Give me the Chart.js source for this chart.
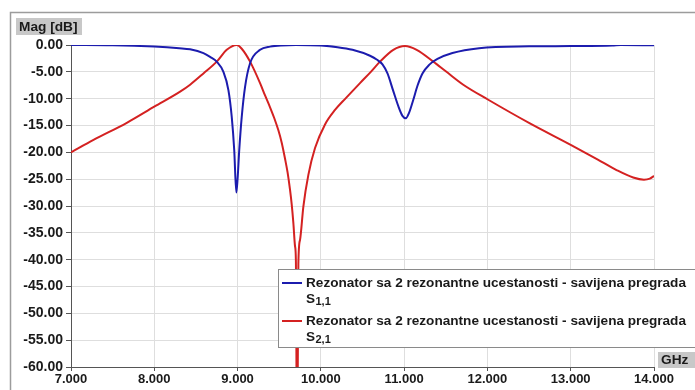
<!DOCTYPE html>
<html>
<head>
<meta charset="utf-8">
<script src="https://cdn.jsdelivr.net/npm/chart.js@4/dist/chart.umd.min.js"></script>
<style>
    html, body { margin: 0; padding: 0; background: #fff; }
    #wrap { position: relative; width: 695px; height: 390px; }
</style>
</head>
<body>
<div id="wrap"><canvas id="chart" width="695" height="390"></canvas></div>
<script>
// S1,1 (blue) - frequency in GHz, magnitude in dB
const freqS11 = [7.0, 7.5, 8.0, 8.3, 8.43, 8.59, 8.67, 8.75, 8.83, 8.89, 8.93, 8.96, 8.985, 9.0, 9.02, 9.05, 9.09, 9.15, 9.27, 9.39, 9.7,
    10.0, 10.2, 10.38, 10.59, 10.67, 10.74, 10.80, 10.87, 10.93, 10.98, 11.02, 11.06, 11.11, 11.16, 11.22, 11.30, 11.40, 11.58, 11.9,
    12.5, 13.0, 13.5, 13.6, 14.0];
const magS11 = [0.0, -0.05, -0.3, -0.6, -0.8, -1.5, -2.2, -3.1, -5.0, -8.4, -13.4, -19.6, -27.5, -25.0, -19.6, -13.4, -7.8, -3.4, -0.9, -0.3, 0.0,
    -0.1, -0.4, -0.9, -2.0, -2.7, -3.6, -5.3, -8.6, -11.4, -13.2, -13.65, -12.6, -10.2, -7.6, -5.3, -3.7, -2.6, -1.5, -0.6,
    -0.25, -0.2, -0.1, 0.0, -0.05];

// S2,1 (red)
const freqS21 = [7.0, 7.27, 7.67, 8.0, 8.31, 8.43, 8.59, 8.75, 8.87, 8.99, 9.05, 9.15, 9.27, 9.33, 9.39, 9.44, 9.49, 9.53, 9.57, 9.60,
    9.63, 9.65, 9.67, 9.69, 9.70, 9.715, 9.73, 9.75, 9.79, 9.85, 9.93, 10.05, 10.17, 10.30, 10.47, 10.60, 10.71, 10.87, 11.01, 11.15,
    11.35, 11.5, 11.71, 12.01, 12.51, 13.0, 13.32, 13.55, 13.75, 13.88, 13.95, 14.0];
const magS21 = [-20.0, -17.7, -14.5, -11.5, -8.7, -7.4, -5.3, -3.1, -0.9, 0.0, -0.7, -3.1, -7.1, -9.4, -11.6, -13.6, -15.9, -18.2, -21.2, -23.7,
    -27.0, -29.7, -33.2, -37.5, -40.0, -80.0, -40.7, -36.3, -30.1, -24.2, -19.2, -14.8, -12.1, -9.9, -7.1, -5.0, -3.1, -0.9, -0.2, -0.9,
    -3.1, -4.9, -7.4, -10.2, -14.6, -18.6, -21.3, -23.3, -24.7, -25.1, -24.9, -24.4];

const seriesName = 'Rezonator sa 2 rezonantne ucestanosti - savijena pregrada';
const seriesSubs = ['1,1', '2,1'];
const seriesColors = ['#1c1cae', '#d42121'];

const FONT = '"Liberation Sans", Arial, sans-serif';

function toPoints(xs, ys) {
    return xs.map((x, i) => ({ x: x, y: ys[i] }));
}

// frame, axis unit boxes and the legend
const decorations = {
    id: 'decorations',
    afterDraw(chart) {
        const ctx = chart.ctx;
        ctx.save();

        // outer panel frame
        ctx.strokeStyle = '#9c9c9c';
        ctx.lineWidth = 1.5;
        ctx.beginPath();
        ctx.moveTo(10.5, 390);
        ctx.lineTo(10.5, 12.5);
        ctx.lineTo(695, 12.5);
        ctx.stroke();

        // unit labels
        ctx.font = 'bold 13.7px ' + FONT;
        ctx.textBaseline = 'middle';
        ctx.fillStyle = '#c8c8c8';
        ctx.fillRect(16, 18, 66, 17);
        ctx.fillRect(658, 352, 37, 16);
        ctx.fillStyle = '#1a1a1a';
        ctx.textAlign = 'left';
        ctx.fillText('Mag [dB]', 19, 27);
        ctx.fillText('GHz', 661, 360.5);

        // legend
        ctx.fillStyle = '#fff';
        ctx.fillRect(278.5, 269.5, 420, 78);
        ctx.strokeStyle = '#8a8a8a';
        ctx.lineWidth = 1;
        ctx.strokeRect(278.5, 269.5, 420, 78);

        const rows = [283, 321];
        rows.forEach((y, i) => {
            ctx.strokeStyle = seriesColors[i];
            ctx.lineWidth = 2;
            ctx.beginPath();
            ctx.moveTo(282, y);
            ctx.lineTo(302, y);
            ctx.stroke();

            ctx.fillStyle = '#1a1a1a';
            ctx.font = 'bold 13.6px ' + FONT;
            ctx.fillText(seriesName, 306, y);
            ctx.fillText('S', 306, y + 16);
            ctx.font = 'bold 11px ' + FONT;
            ctx.fillText(seriesSubs[i], 315.5, y + 19);
        });

        ctx.restore();
    }
};

new Chart(document.getElementById('chart'), {
    type: 'line',
    data: {
        datasets: [
            {
                label: seriesName + ' S1,1',
                data: toPoints(freqS11, magS11),
                borderColor: seriesColors[0],
                borderWidth: 2,
                pointRadius: 0,
                cubicInterpolationMode: 'monotone',
                fill: false
            },
            {
                label: seriesName + ' S2,1',
                data: toPoints(freqS21, magS21),
                borderColor: seriesColors[1],
                borderWidth: 2,
                pointRadius: 0,
                cubicInterpolationMode: 'monotone',
                fill: false
            }
        ]
    },
    options: {
        responsive: false,
        animation: false,
        layout: { padding: { top: 45, right: 41, left: 0, bottom: 0 } },
        plugins: {
            legend: { display: false },
            tooltip: { enabled: false }
        },
        scales: {
            x: {
                type: 'linear',
                min: 7,
                max: 14,
                afterFit: s => { s.height = 23; },
                border: { color: '#555', width: 1 },
                grid: { color: '#dedede', tickColor: '#555', tickLength: 4 },
                ticks: {
                    stepSize: 1,
                    padding: 1,
                    color: '#1a1a1a',
                    font: { family: FONT, size: 13, weight: 'bold' },
                    callback: v => v.toFixed(3),
                    maxRotation: 0
                }
            },
            y: {
                min: -60,
                max: 0,
                afterFit: s => { s.width = 71; },
                border: { color: '#555', width: 1 },
                grid: { color: '#dedede', tickColor: '#555', tickLength: 5 },
                ticks: {
                    stepSize: 5,
                    padding: 3,
                    color: '#1a1a1a',
                    font: { family: FONT, size: 14, weight: 'bold' },
                    callback: v => v.toFixed(2)
                }
            }
        }
    },
    plugins: [decorations]
});
</script>
</body>
</html>
